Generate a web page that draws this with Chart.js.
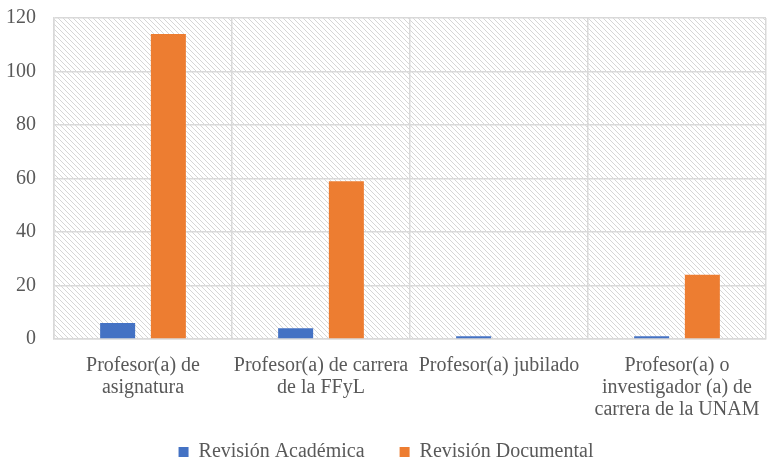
<!DOCTYPE html>
<html lang="es">
<head>
    <meta charset="UTF-8">
    <title>Revisión por tipo de profesor</title>
    <script src="https://cdn.jsdelivr.net/npm/chart.js"></script>
    <style>
        body { margin: 0; background: #fff; }
        #wrap { width: 767px; height: 461px; }
    </style>
</head>
<body>
    <div id="wrap">
        <canvas id="chart" width="767" height="461"></canvas>
    </div>

    <script>
// categorías (etiquetas en varias líneas)
const categorias = [
    ['Profesor(a) de', 'asignatura'],
    ['Profesor(a) de carrera', 'de la FFyL'],
    ['Profesor(a) jubilado'],
    ['Profesor(a) o', 'investigador (a) de', 'carrera de la UNAM']
];
const revisionAcademica = [6, 4, 1, 1];
const revisionDocumental = [114, 59, 0, 24];
const ticksY = [0, 20, 40, 60, 80, 100, 120];

// fondo rayado del área del gráfico
const fondoRayado = {
    id: 'fondoRayado',
    beforeDraw(chart) {
        const { ctx, chartArea: a } = chart;
        ctx.save();
        ctx.beginPath();
        ctx.rect(a.left, a.top, a.right - a.left, a.bottom - a.top);
        ctx.clip();
        ctx.strokeStyle = '#d6d6d6';
        ctx.lineWidth = 1;
        const h = a.bottom - a.top;
        for (let x = a.left - h; x < a.right; x += 5) {
            ctx.beginPath();
            ctx.moveTo(x, a.top);
            ctx.lineTo(x + h, a.bottom);
            ctx.stroke();
        }
        ctx.restore();
    }
};

const fuente = "'Liberation Serif', 'Times New Roman', serif";

new Chart(document.getElementById('chart'), {
    type: 'bar',
    data: {
        labels: categorias,
        datasets: [
            {
                label: 'Revisión Académica',
                data: revisionAcademica,
                backgroundColor: '#4472c4',
                barPercentage: 0.69,
                categoryPercentage: 0.57
            },
            {
                label: 'Revisión Documental',
                data: revisionDocumental,
                backgroundColor: '#ed7d31',
                barPercentage: 0.69,
                categoryPercentage: 0.57
            }
        ]
    },
    options: {
        responsive: false,
        animation: false,
        layout: { padding: { top: 18, right: 1, left: 6, bottom: -11 } },
        plugins: {
            legend: {
                position: 'bottom',
                labels: {
                    boxWidth: 10,
                    boxHeight: 10,
                    padding: 0,
                    color: '#595959',
                    font: { family: fuente, size: 20 },
                    generateLabels(chart) {
                        const items = Chart.defaults.plugins.legend.labels.generateLabels(chart);
                        items.forEach((it, i) => { if (i === 0) it.text = it.text + '       '; });
                        return items;
                    }
                }
            },
            tooltip: { enabled: false }
        },
        scales: {
            x: {
                afterFit: s => { s.height = 103; s.paddingLeft = 0; s.paddingRight = 0; },
                grid: { color: '#d9d9d9', lineWidth: 1.5, drawTicks: false },
                border: { color: '#d9d9d9', width: 1.5 },
                ticks: {
                    color: '#595959',
                    padding: 16,
                    maxRotation: 0,
                    autoSkip: false,
                    font: { family: fuente, size: 20, lineHeight: 1.1 }
                }
            },
            y: {
                min: 0,
                max: 120,
                afterBuildTicks: axis => { axis.ticks = ticksY.map(v => ({ value: v })); },
                afterFit: s => { s.width = 48; s.paddingTop = 0; s.paddingBottom = 0; },
                grid: { color: '#d9d9d9', lineWidth: 1.5, drawTicks: false },
                border: { color: '#d9d9d9', width: 1.5 },
                ticks: {
                    color: '#595959',
                    padding: 18,
                    font: { family: fuente, size: 20 }
                }
            }
        }
    },
    plugins: [fondoRayado]
});
    </script>
</body>
</html>
